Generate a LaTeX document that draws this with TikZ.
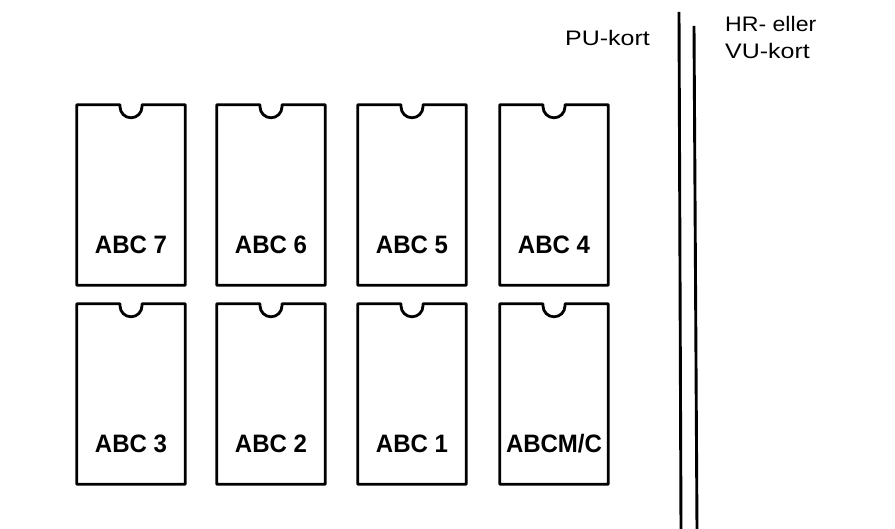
\documentclass[tikz,border=0pt]{standalone}
\usepackage{fontspec}
\setmainfont{Liberation Sans}
\tikzset{
  chipbody/.style={draw=none, minimum width=108pt, minimum height=180pt, inner sep=0pt},
  chipline/.style={line width=2.8pt, line join=round},
  chiplabel/.style={font=\fontsize{24}{24}\selectfont\bfseries, anchor=base, inner sep=0pt},
  cardtext/.style={font=\fontsize{21}{21}\selectfont, anchor=base west, inner sep=0pt},
  rail/.style={line width=2.9pt}
}
\newcommand{\mychip}[4]{%
  \node[chipbody] (#1) at (#2, #3) {};
  \draw[chipline] (#1.north west) -- ([xshift=-11pt]#1.north) -- ++(0,-2)
     arc[start angle=180, end angle=360, radius=11pt] -- ([xshift=11pt]#1.north)
     -- (#1.north east) -- (#1.south east) -- (#1.south west) -- cycle;
  \node[chiplabel] (#1l) at ([yshift=32pt]#1.south) {\scalebox{1.0}[1.05]{#4}};
}
\begin{document}
\begin{tikzpicture}[x=1pt,y=1pt]
\useasboundingbox (0,0) rectangle (895,529);
\mychip{c7}{131}{334}{ABC 7}
\mychip{c6}{271}{334}{ABC 6}
\mychip{c5}{412}{334}{ABC 5}
\mychip{c4}{554}{334}{ABC 4}
\mychip{c3}{131}{135}{ABC 3}
\mychip{c2}{271}{135}{ABC 2}
\mychip{c1}{412}{135}{ABC 1}
\mychip{cm}{554}{135}{ABCM/C}
\coordinate (r1t) at (679,517);
\coordinate (r1b) at (681,0);
\coordinate (r2t) at (694,503);
\coordinate (r2b) at (697,0);
\draw[rail] (r1t) -- (r1b);
\draw[rail] (r2t) -- (r2b);
\node[cardtext] (pu) at (565,483) {\scalebox{1.19}[1]{PU-kort}};
\node[cardtext] (hr) at (725,497) {\scalebox{1.1}[1]{HR- eller}};
\node[cardtext] (vu) at (725,470) {\scalebox{1.19}[1]{VU-kort}};
\end{tikzpicture}
\end{document}
